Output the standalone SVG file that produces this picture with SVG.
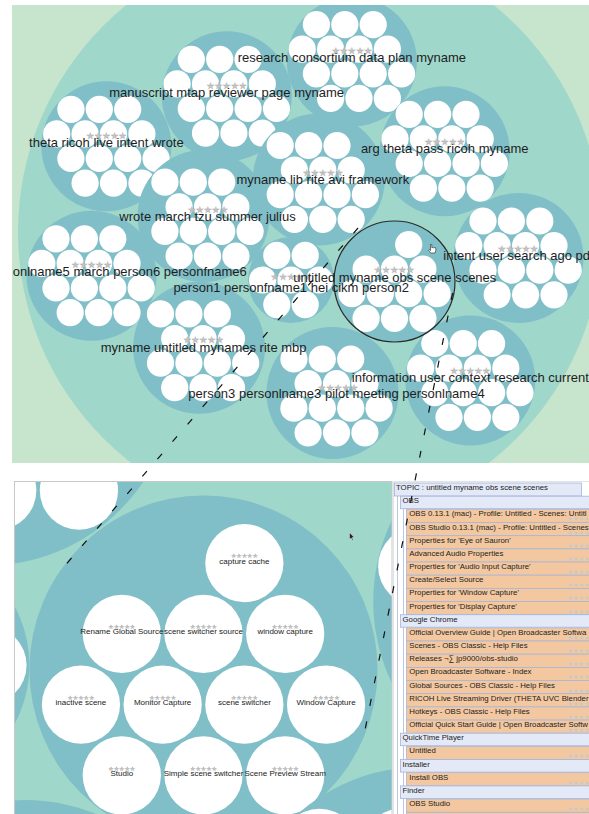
<svg xmlns="http://www.w3.org/2000/svg" xmlns:xlink="http://www.w3.org/1999/xlink" width="589" height="814" viewBox="0 0 589 814">
<style>
.bg{fill:#c6e5cc}
.outer{fill:#a0d7cb}
.t{fill:#80bfc8}
.l{fill:#fff}
.lab{font-family:"Liberation Sans",Arial,sans-serif;font-size:13px;fill:#1e1e1e;text-anchor:middle}
.st{font-family:"DejaVu Sans",sans-serif;font-size:9px;fill:#c4c4c4;stroke:#ababab;stroke-width:0.3;text-anchor:middle}
.ll{font-family:"Liberation Sans",Arial,sans-serif;font-size:8px;fill:#222;text-anchor:middle}
.ls{font-family:"DejaVu Sans",sans-serif;font-size:6px;fill:#c4c4c4;stroke:#aaaaaa;stroke-width:0.2;text-anchor:middle}
.li{font-family:"Liberation Sans",Arial,sans-serif;font-size:7.8px;fill:#222}
.lst{font-family:"DejaVu Sans",sans-serif;font-size:6.3px;fill:#c8c8c8}
.hd{fill:#e3e9f6;stroke:#a3b4dc;stroke-width:0.8}
.lf{fill:#f3c8a0;stroke:#a8b5d5;stroke-width:0.8}
.vl{stroke:#bac6e4;stroke-width:1;fill:none}
.dash{stroke:#111;stroke-width:1.2;stroke-dasharray:7 16;fill:none}
.panel{fill:none;stroke:#c8c8c8;stroke-width:1}
</style>
<defs>
<clipPath id="clipTop"><rect x="12" y="5" width="577" height="458"/></clipPath>
<clipPath id="clipBot"><rect x="14.5" y="481.5" width="377.5" height="333"/></clipPath>
<clipPath id="clipList"><rect x="393.5" y="481.5" width="196" height="333"/></clipPath>
<g id="p14">
<circle class="t" r="65"/>
<circle class="l" cx="-35.5" cy="-36.9" r="13.6"/><circle class="l" cx="-7.1" cy="-36.9" r="13.6"/><circle class="l" cx="21.3" cy="-36.9" r="13.6"/>
<circle class="l" cx="-49.7" cy="-12.3" r="13.6"/><circle class="l" cx="-21.3" cy="-12.3" r="13.6"/><circle class="l" cx="7.1" cy="-12.3" r="13.6"/><circle class="l" cx="35.5" cy="-12.3" r="13.6"/>
<circle class="l" cx="-35.5" cy="12.3" r="13.6"/><circle class="l" cx="-7.1" cy="12.3" r="13.6"/><circle class="l" cx="21.3" cy="12.3" r="13.6"/><circle class="l" cx="49.7" cy="12.3" r="13.6"/>
<circle class="l" cx="-21.3" cy="36.9" r="13.6"/><circle class="l" cx="7.1" cy="36.9" r="13.6"/><circle class="l" cx="35.5" cy="36.9" r="13.6"/>
</g>
<g id="p13">
<circle class="t" cx="-4" cy="-3" r="66"/>
<circle class="l" cx="-42.6" cy="-36.9" r="13.6"/><circle class="l" cx="-14.2" cy="-36.9" r="13.6"/><circle class="l" cx="14.2" cy="-36.9" r="13.6"/>
<circle class="l" cx="-28.4" cy="-12.3" r="13.6"/><circle class="l" cx="0" cy="-12.3" r="13.6"/><circle class="l" cx="28.4" cy="-12.3" r="13.6"/>
<circle class="l" cx="-42.6" cy="12.3" r="13.6"/><circle class="l" cx="-14.2" cy="12.3" r="13.6"/><circle class="l" cx="14.2" cy="12.3" r="13.6"/><circle class="l" cx="42.6" cy="12.3" r="13.6"/>
<circle class="l" cx="-28.4" cy="36.9" r="13.6"/><circle class="l" cx="0" cy="36.9" r="13.6"/><circle class="l" cx="28.4" cy="36.9" r="13.6"/>
</g>
<g id="p11">
<circle class="t" r="60.5"/>
<circle class="l" cx="14.2" cy="-37" r="13.6"/>
<circle class="l" cx="-28.4" cy="-12.4" r="13.6"/><circle class="l" cx="0" cy="-12.4" r="13.6"/><circle class="l" cx="28.4" cy="-12.4" r="13.6"/>
<circle class="l" cx="-42.6" cy="12.2" r="13.6"/><circle class="l" cx="-14.2" cy="12.2" r="13.6"/><circle class="l" cx="14.2" cy="12.2" r="13.6"/><circle class="l" cx="42.6" cy="12.2" r="13.6"/>
<circle class="l" cx="-28.4" cy="36.8" r="13.6"/><circle class="l" cx="0" cy="36.8" r="13.6"/><circle class="l" cx="28.4" cy="36.8" r="13.6"/>
</g>
<g id="p7">
<circle class="t" r="43"/>
<circle class="l" cx="-14.2" cy="-24.6" r="13.6"/><circle class="l" cx="14.2" cy="-24.6" r="13.6"/>
<circle class="l" cx="-28.4" cy="0" r="13.6"/><circle class="l" cx="0" cy="0" r="13.6"/><circle class="l" cx="28.4" cy="0" r="13.6"/>
<circle class="l" cx="-14.2" cy="24.6" r="13.6"/><circle class="l" cx="14.2" cy="24.6" r="13.6"/>
</g>
</defs>

<!-- top overview panel -->
<g id="overview" clip-path="url(#clipTop)">
<rect class="bg" x="12" y="5" width="577" height="458"/>
<g id="pack">
<circle class="outer" cx="310" cy="232" r="292"/>
<g id="topic-research" transform="translate(351.9 61.5)"><use xlink:href="#p14"/></g>
<g id="topic-manuscript" transform="translate(226.8 96.2)"><use xlink:href="#p14"/></g>
<g id="topic-theta" transform="translate(106.4 146.2)"><use xlink:href="#p14"/></g>
<g id="topic-arg" transform="translate(444.7 151.2)"><use xlink:href="#p14"/></g>
<g id="topic-mynamelib" transform="translate(322.8 182.4)"><use xlink:href="#p13"/></g>
<g id="topic-wrote" transform="translate(207.5 219.1)"><use xlink:href="#p13"/></g>
<g id="topic-person5" transform="translate(91.5 275.7)"><use xlink:href="#p14"/></g>
<g id="topic-person1" transform="translate(291 280)"><use xlink:href="#p7"/></g>
<g id="topic-untitled" transform="translate(394.5 281.5)"><use xlink:href="#p11"/></g>
<g id="topic-intent" transform="translate(518.5 257.9)"><use xlink:href="#p14"/></g>
<g id="topic-mynameuntitled" transform="translate(203.1 350.8)"><use xlink:href="#p13"/></g>
<g id="topic-person3" transform="translate(336.5 395.9)"><use xlink:href="#p13"/></g>
<g id="topic-information" transform="translate(470.3 380.4)"><use xlink:href="#p14"/></g>
</g>
<circle id="selection" cx="394.5" cy="281.5" r="60.5" fill="none" stroke="#2a2a2a" stroke-width="1.2"/>
<g id="topic-labels">
<g id="label-research"><text class="st" x="351.9" y="54.3">★★★★★</text><text class="lab" x="351.9" y="62.3">research consortium data plan myname</text></g>
<g id="label-manuscript"><text class="st" x="226.6" y="88.7">★★★★★</text><text class="lab" x="226.6" y="96.7">manuscript mtap reviewer page myname</text></g>
<g id="label-theta"><text class="st" x="106.4" y="138.7">★★★★★</text><text class="lab" x="106.4" y="146.7">theta ricoh live intent wrote</text></g>
<g id="label-arg"><text class="st" x="444.7" y="145.3">★★★★★</text><text class="lab" x="444.7" y="153.3">arg theta pass ricoh myname</text></g>
<g id="label-mynamelib"><text class="st" x="322.8" y="175.7">★★★★★</text><text class="lab" x="322.8" y="183.5">myname lib rite avi framework</text></g>
<g id="label-wrote"><text class="st" x="207.8" y="212.6">★★★★★</text><text class="lab" x="207.5" y="220.7">wrote march tzu summer julius</text></g>
<g id="label-person5"><text class="st" x="91.5" y="268">★★★★★</text><text class="lab" x="12.7" y="275.7" style="text-anchor:start">onlname5 march person6 personfname6</text></g>
<g id="label-person1"><text class="st" x="291" y="279.5">★★★★★</text><text class="lab" x="291.2" y="291.7">person1 personfname1 hei cikm person2</text></g>
<g id="label-untitled"><text class="st" x="394.2" y="273.2">★★★★★</text><text class="lab" x="394.8" y="281.7">untitled myname obs scene scenes</text></g>
<g id="label-intent"><text class="st" x="518" y="252.2">★★★★★</text><text class="lab" x="443.3" y="260" style="text-anchor:start">intent user search ago pd</text></g>
<g id="label-mynameuntitled"><text class="st" x="203.4" y="343.2">★★★★★</text><text class="lab" x="203.6" y="351.7">myname untitled mynames rite mbp</text></g>
<g id="label-person3"><text class="st" x="338" y="390.5">★★★★★</text><text class="lab" x="336.5" y="398.3">person3 personlname3 pilot meeting personlname4</text></g>
<g id="label-information"><text class="st" x="470.2" y="373.9">★★★★★</text><text class="lab" x="470.3" y="381.7">information user context research current</text></g>
</g>
<path id="cursor-hand" d="M430.5 244.5 l0 6 l-1.2 -1 l-0.8 0.8 l2.2 2.7 h4.3 l0.8 -2.5 v-2.6 l-1.1 -0.3 l-1 0.2 l-0.9 -0.2 l-1 0.1 v-3.2 z" fill="#fff" stroke="#222" stroke-width="0.6"/>
</g>

<!-- bottom zoomed panel -->
<g id="zoom-panel">
<g clip-path="url(#clipBot)">
<rect fill="#a0d7cb" x="14.5" y="481.5" width="377.5" height="333"/>
<use xlink:href="#pack" transform="translate(203.5 669.5) scale(2.877) translate(-394.5 -281.5)"/>
</g>
<rect class="panel" x="14.5" y="481.5" width="377.5" height="340"/>
<g id="leaf-labels">
<g id="leaf-capture-cache"><text class="ls" x="244.4" y="558">★★★★★</text><text class="ll" x="244.4" y="563.5">capture cache</text></g>
<g id="leaf-rename"><text class="ls" x="121.8" y="629">★★★★★</text><text class="ll" x="121.8" y="634.3">Rename Global Source</text></g>
<g id="leaf-switcher-source"><text class="ls" x="203.5" y="629">★★★★★</text><text class="ll" x="203.5" y="634.3">scene switcher source</text></g>
<g id="leaf-window-capture"><text class="ls" x="285.2" y="629">★★★★★</text><text class="ll" x="285.2" y="634.3">window capture</text></g>
<g id="leaf-inactive"><text class="ls" x="80.9" y="699.8">★★★★★</text><text class="ll" x="80.9" y="705.1">inactive scene</text></g>
<g id="leaf-monitor"><text class="ls" x="162.6" y="699.8">★★★★★</text><text class="ll" x="162.6" y="705.1">Monitor Capture</text></g>
<g id="leaf-switcher"><text class="ls" x="244.4" y="699.8">★★★★★</text><text class="ll" x="244.4" y="705.1">scene switcher</text></g>
<g id="leaf-window-capture2"><text class="ls" x="326.1" y="699.8">★★★★★</text><text class="ll" x="326.1" y="705.1">Window Capture</text></g>
<g id="leaf-studio"><text class="ls" x="121.8" y="770.6">★★★★★</text><text class="ll" x="121.8" y="775.9">Studio</text></g>
<g id="leaf-simple"><text class="ls" x="203.5" y="770.6">★★★★★</text><text class="ll" x="203.5" y="775.9">Simple scene switcher</text></g>
<g id="leaf-preview"><text class="ls" x="285.2" y="770.6">★★★★★</text><text class="ll" x="285.2" y="775.9">Scene Preview Stream</text></g>
</g>
<path id="cursor-arrow" d="M349.5 532.5 l0 7 l1.6 -1.5 l1.3 2.6 l0.9 -0.4 l-1.2 -2.6 l2.2 0 z" fill="#222" stroke="#fff" stroke-width="0.4"/>
</g>

<!-- list panel -->
<g id="list-panel" clip-path="url(#clipList)">
<rect x="393.5" y="481.5" width="200" height="340" fill="#fff" stroke="#c8c8c8"/>
<line class="vl" x1="397.5" y1="496" x2="397.5" y2="814"/>
<line class="vl" x1="403.5" y1="508.7" x2="403.5" y2="614.7"/>
<line class="vl" x1="403.5" y1="627.2" x2="403.5" y2="733.2"/>
<line class="vl" x1="403.5" y1="745.7" x2="403.5" y2="759.6"/>
<line class="vl" x1="403.5" y1="772.1" x2="403.5" y2="785.9"/>
<line class="vl" x1="403.5" y1="798.4" x2="403.5" y2="814"/>
<g id="row-topic"><rect class="hd" x="394.5" y="483" width="187" height="13"/><text class="li" x="396" y="490">TOPIC : untitled myname obs scene scenes</text></g>
<g id="app-obs"><rect class="hd" x="400.5" y="496.2" width="195" height="12.5"/><text class="li" x="402.5" y="503.1">OBS</text></g>
<g id="row-2"><rect class="lf" x="406.5" y="509.3" width="190" height="13.17"/><text class="li" x="409.3" y="516.3">OBS 0.13.1 (mac) - Profile: Untitled - Scenes: Untitl</text><text class="lst" x="567" y="521.3">★★★★★</text></g>
<g id="row-3"><rect class="lf" x="406.5" y="522.5" width="190" height="13.17"/><text class="li" x="409.3" y="529.5">OBS Studio 0.13.1 (mac) - Profile: Untitled - Scenes</text><text class="lst" x="567" y="534.5">★★★★★</text></g>
<g id="row-4"><rect class="lf" x="406.5" y="535.7" width="190" height="13.17"/><text class="li" x="409.3" y="542.7">Properties for 'Eye of Sauron'</text><text class="lst" x="567" y="547.7">★★★★★</text></g>
<g id="row-5"><rect class="lf" x="406.5" y="548.9" width="190" height="13.17"/><text class="li" x="409.3" y="555.9">Advanced Audio Properties</text><text class="lst" x="567" y="560.9">★★★★★</text></g>
<g id="row-6"><rect class="lf" x="406.5" y="562" width="190" height="13.17"/><text class="li" x="409.3" y="569">Properties for 'Audio Input Capture'</text><text class="lst" x="567" y="574">★★★★★</text></g>
<g id="row-7"><rect class="lf" x="406.5" y="575.2" width="190" height="13.17"/><text class="li" x="409.3" y="582.2">Create/Select Source</text><text class="lst" x="567" y="587.2">★★★★★</text></g>
<g id="row-8"><rect class="lf" x="406.5" y="588.4" width="190" height="13.17"/><text class="li" x="409.3" y="595.4">Properties for 'Window Capture'</text><text class="lst" x="567" y="600.4">★★★★★</text></g>
<g id="row-9"><rect class="lf" x="406.5" y="601.5" width="190" height="13.17"/><text class="li" x="409.3" y="608.5">Properties for 'Display Capture'</text><text class="lst" x="567" y="613.5">★★★★★</text></g>
<g id="app-chrome"><rect class="hd" x="400.5" y="614.7" width="195" height="12.5"/><text class="li" x="402.5" y="621.6">Google Chrome</text></g>
<g id="row-11"><rect class="lf" x="406.5" y="627.9" width="190" height="13.17"/><text class="li" x="409.3" y="634.9">Official Overview Guide | Open Broadcaster Softwa</text><text class="lst" x="567" y="639.9">★★★★★</text></g>
<g id="row-12"><rect class="lf" x="406.5" y="641" width="190" height="13.17"/><text class="li" x="409.3" y="648">Scenes - OBS Classic - Help Files</text><text class="lst" x="567" y="653">★★★★★</text></g>
<g id="row-13"><rect class="lf" x="406.5" y="654.2" width="190" height="13.17"/><text class="li" x="409.3" y="661.2">Releases ¬∑ jp9000/obs-studio</text><text class="lst" x="567" y="666.2">★★★★★</text></g>
<g id="row-14"><rect class="lf" x="406.5" y="667.4" width="190" height="13.17"/><text class="li" x="409.3" y="674.4">Open Broadcaster Software - Index</text><text class="lst" x="567" y="679.4">★★★★★</text></g>
<g id="row-15"><rect class="lf" x="406.5" y="680.6" width="190" height="13.17"/><text class="li" x="409.3" y="687.6">Global Sources - OBS Classic - Help Files</text><text class="lst" x="567" y="692.6">★★★★★</text></g>
<g id="row-16"><rect class="lf" x="406.5" y="693.7" width="190" height="13.17"/><text class="li" x="409.3" y="700.7">RICOH Live Streaming Driver (THETA UVC Blender</text><text class="lst" x="567" y="705.7">★★★★★</text></g>
<g id="row-17"><rect class="lf" x="406.5" y="706.9" width="190" height="13.17"/><text class="li" x="409.3" y="713.9">Hotkeys - OBS Classic - Help Files</text><text class="lst" x="567" y="718.9">★★★★★</text></g>
<g id="row-18"><rect class="lf" x="406.5" y="720.1" width="190" height="13.17"/><text class="li" x="409.3" y="727.1">Official Quick Start Guide | Open Broadcaster Softw</text><text class="lst" x="567" y="732.1">★★★★★</text></g>
<g id="app-quicktime"><rect class="hd" x="400.5" y="733.2" width="195" height="12.5"/><text class="li" x="402.5" y="740.1">QuickTime Player</text></g>
<g id="row-20"><rect class="lf" x="406.5" y="746.4" width="190" height="13.17"/><text class="li" x="409.3" y="753.4">Untitled</text><text class="lst" x="567" y="758.4">★★★★★</text></g>
<g id="app-installer"><rect class="hd" x="400.5" y="759.6" width="195" height="12.5"/><text class="li" x="402.5" y="766.5">Installer</text></g>
<g id="row-22"><rect class="lf" x="406.5" y="772.7" width="190" height="13.17"/><text class="li" x="409.3" y="779.7">Install OBS</text><text class="lst" x="567" y="784.7">★★★★★</text></g>
<g id="app-finder"><rect class="hd" x="400.5" y="785.9" width="195" height="12.5"/><text class="li" x="402.5" y="792.8">Finder</text></g>
<g id="row-24"><rect class="lf" x="406.5" y="799.1" width="190" height="13.17"/><text class="li" x="409.3" y="806.1">OBS Studio</text><text class="lst" x="567" y="811.1">★★★★★</text></g>
<g id="row-25"><rect class="lf" x="406.5" y="812.3" width="190" height="13.17"/></g>
</g>

<!-- connectors -->
<g id="connectors">
<line class="dash" x1="358" y1="228" x2="62" y2="569"/>
<line class="dash" x1="452.6" y1="293" x2="362.6" y2="742"/>
</g>
</svg>
